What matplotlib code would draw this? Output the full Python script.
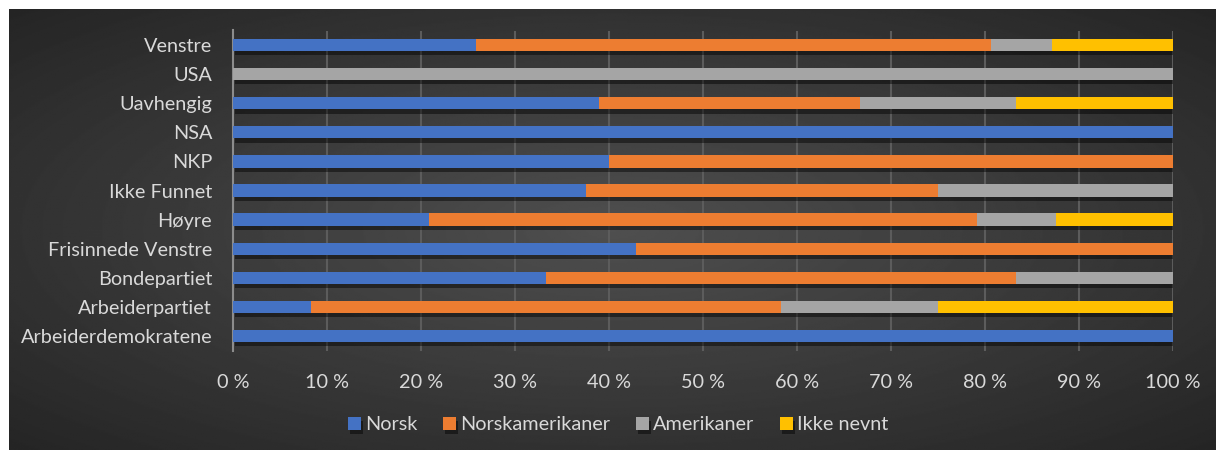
import matplotlib.pyplot as plt
import matplotlib.patheffects as pe
import numpy as np

categories = ['Arbeiderdemokratene', 'Arbeiderpartiet', 'Bondepartiet', 'Frisinnede Venstre',
              'Høyre', 'Ikke Funnet', 'NKP', 'NSA', 'Uavhengig', 'USA', 'Venstre']
series = ['Norsk', 'Norskamerikaner', 'Amerikaner', 'Ikke nevnt']
norsk = [100, 8.3, 33.3, 42.9, 20.8, 37.5, 40, 100, 38.9, 0, 25.8]
norskamerikaner = [0, 50, 50, 57.1, 58.4, 37.5, 60, 0, 27.8, 0, 54.8]
amerikaner = [0, 16.7, 16.7, 0, 8.3, 25, 0, 0, 16.6, 100, 6.5]
ikke_nevnt = [0, 25, 0, 0, 12.5, 0, 0, 0, 16.7, 0, 12.9]
colors = ['#4472C4', '#ED7D31', '#A5A5A5', '#FFC000']
xticks = [0, 10, 20, 30, 40, 50, 60, 70, 80, 90, 100]


def main():
    plt.rcParams['font.family'] = ['Lato', 'DejaVu Sans']
    txt = '#d9d9d9'
    fs = 14.3

    fig = plt.figure(figsize=(12.16, 4.5), dpi=100)
    fig.patch.set_facecolor('white')

    # dark gradient background
    bg = fig.add_axes([9 / 1216, 0, 1 - 9 / 1216, 1 - 9 / 450])
    yy, xx = np.mgrid[-1:1:300j, -1:1:800j]
    r = np.sqrt((xx * 0.9) ** 2 + (yy * 0.9) ** 2)
    img = 0.31 - 0.13 * np.clip(r, 0, 1.3)
    bg.imshow(img, cmap='gray', vmin=0, vmax=1, aspect='auto', extent=[0, 1, 0, 1])
    bg.set_axis_off()

    ax = fig.add_axes([233 / 1216, 99.5 / 450, 940 / 1216, 320 / 450])
    ax.patch.set_alpha(0)

    y = np.arange(len(categories))
    left = np.zeros(len(categories))
    shadow = [pe.SimplePatchShadow(offset=(1.5, -3), shadow_rgbFace='black', alpha=0.45), pe.Normal()]
    for name, vals, c in zip(series, [norsk, norskamerikaner, amerikaner, ikke_nevnt], colors):
        vals = np.array(vals)
        bars = ax.barh(y, vals, left=left, height=0.42, color=c, label=name, zorder=3)
        for b in bars:
            b.set_path_effects(shadow)
        left += vals

    ax.set_xlim(0, 100)
    ax.set_ylim(-0.5, len(categories) - 0.5)
    ax.set_xticks(xticks)
    ax.set_xticklabels([f'{t} %' for t in xticks])
    ax.set_yticks(y)
    ax.set_yticklabels(categories)
    ax.tick_params(axis='x', length=0, pad=17, labelsize=fs, colors=txt)
    ax.tick_params(axis='y', length=0, pad=15, labelsize=fs, colors=txt)
    ax.grid(axis='x', color='#5c5c5c', linewidth=1.5, zorder=0)
    for s in ['top', 'right', 'bottom']:
        ax.spines[s].set_visible(False)
    ax.spines['left'].set_color('#8c8c8c')
    ax.spines['left'].set_linewidth(1.5)

    leg = fig.legend(loc='center', bbox_to_anchor=(618 / 1216, 1 - 425 / 450), ncol=4,
                     frameon=False, fontsize=fs, handlelength=0.65, handleheight=0.65,
                     handletextpad=0.2, columnspacing=1.3)
    for t in leg.get_texts():
        t.set_color(txt)

    plt.savefig('out.png', dpi=100)


if __name__ == "__main__":
    main()
